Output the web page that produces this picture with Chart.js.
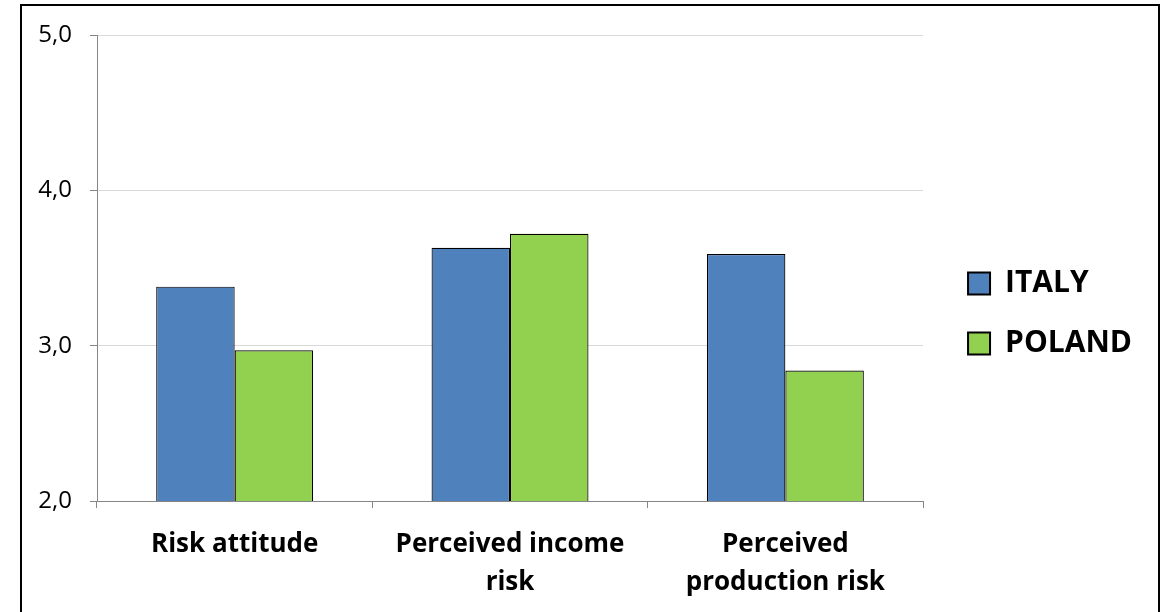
<!DOCTYPE html>
<html>
<head>
<meta charset="utf-8">
<script src="https://cdn.jsdelivr.net/npm/chart.js@4.4.1/dist/chart.umd.min.js"></script>
<style>
    html, body { margin: 0; padding: 0; background: #fff; }
    #frame { position: absolute; left: 20px; top: 4px; width: 1136px; height: 700px; border: 2px solid #000; }
    #wrap { position: absolute; left: 0; top: 0; width: 1168px; height: 612px; }
</style>
</head>
<body>
<div id="frame"></div>
<div id="wrap"><canvas id="chart"></canvas></div>
<script>
var categories = ['Risk attitude', ['Perceived income', 'risk'], ['Perceived', 'production risk']];
var italy = [3.38, 3.63, 3.59];
var poland = [2.97, 3.72, 2.84];
var yTicks = [2, 3, 4, 5];

// push the legend a bit right of the plot area, like the original
var legendShift = {
    id: 'legendShift',
    afterLayout: function (chart) {
        chart.legend.left += 15;
        chart.legend.right += 15;
    }
};

function CreateBarChart(element) {
    var data = {
        labels: categories,
        datasets: [{
            label: 'ITALY',
            data: italy,
            backgroundColor: '#4F81BD',
            borderColor: '#000',
            borderWidth: 1.2
        }, {
            label: 'POLAND',
            data: poland,
            backgroundColor: '#92D050',
            borderColor: '#000',
            borderWidth: 1.2
        }]
    };

    var config = {
        type: 'bar',
        data: data,
        plugins: [legendShift],
        options: {
            responsive: false,
            animation: false,
            maintainAspectRatio: false,
            categoryPercentage: 0.57,
            barPercentage: 1,
            layout: { padding: { top: 35, left: 0, right: 41, bottom: 0 } },
            plugins: {
                tooltip: { enabled: false },
                legend: {
                    position: 'right',
                    align: 'start',
                    title: { display: true, text: '', padding: { top: 0, bottom: 189 } },
                    labels: {
                        boxWidth: 22,
                        boxHeight: 22,
                        padding: 30,
                        color: '#000',
                        font: { family: 'Open Sans', size: 30, weight: 'bold' },
                        generateLabels: function (chart) {
                            return chart.data.datasets.map(function (ds, i) {
                                return {
                                    text: ds.label,
                                    fillStyle: ds.backgroundColor,
                                    strokeStyle: '#000',
                                    fontColor: '#000',
                                    lineWidth: 2,
                                    datasetIndex: i
                                };
                            });
                        }
                    }
                }
            },
            scales: {
                x: {
                    grid: { display: true, offset: true, drawOnChartArea: false, color: '#868686', tickLength: 7 },
                    border: { color: '#868686' },
                    ticks: {
                        color: '#000',
                        padding: 18,
                        maxRotation: 0,
                        font: { family: 'Open Sans', size: 26, weight: 'bold', lineHeight: 1.45 }
                    },
                    afterFit: function (scale) { scale.height = 111; }
                },
                y: {
                    min: 2,
                    max: 5,
                    afterBuildTicks: function (scale) {
                        scale.ticks = yTicks.map(function (v) { return { value: v }; });
                    },
                    grid: { color: '#D9D9D9', tickColor: '#868686', tickLength: 7 },
                    border: { color: '#868686' },
                    ticks: {
                        color: '#000',
                        padding: 18,
                        font: { family: 'Open Sans', size: 24 },
                        callback: function (v) { return v.toFixed(1).replace('.', ','); }
                    },
                    afterFit: function (scale) { scale.width = 97; }
                }
            }
        }
    };

    var ctx = document.querySelector(element);
    ctx.width = 1168;
    ctx.height = 612;
    return new Chart(ctx, config);
}

CreateBarChart('#chart');
</script>
</body>
</html>
